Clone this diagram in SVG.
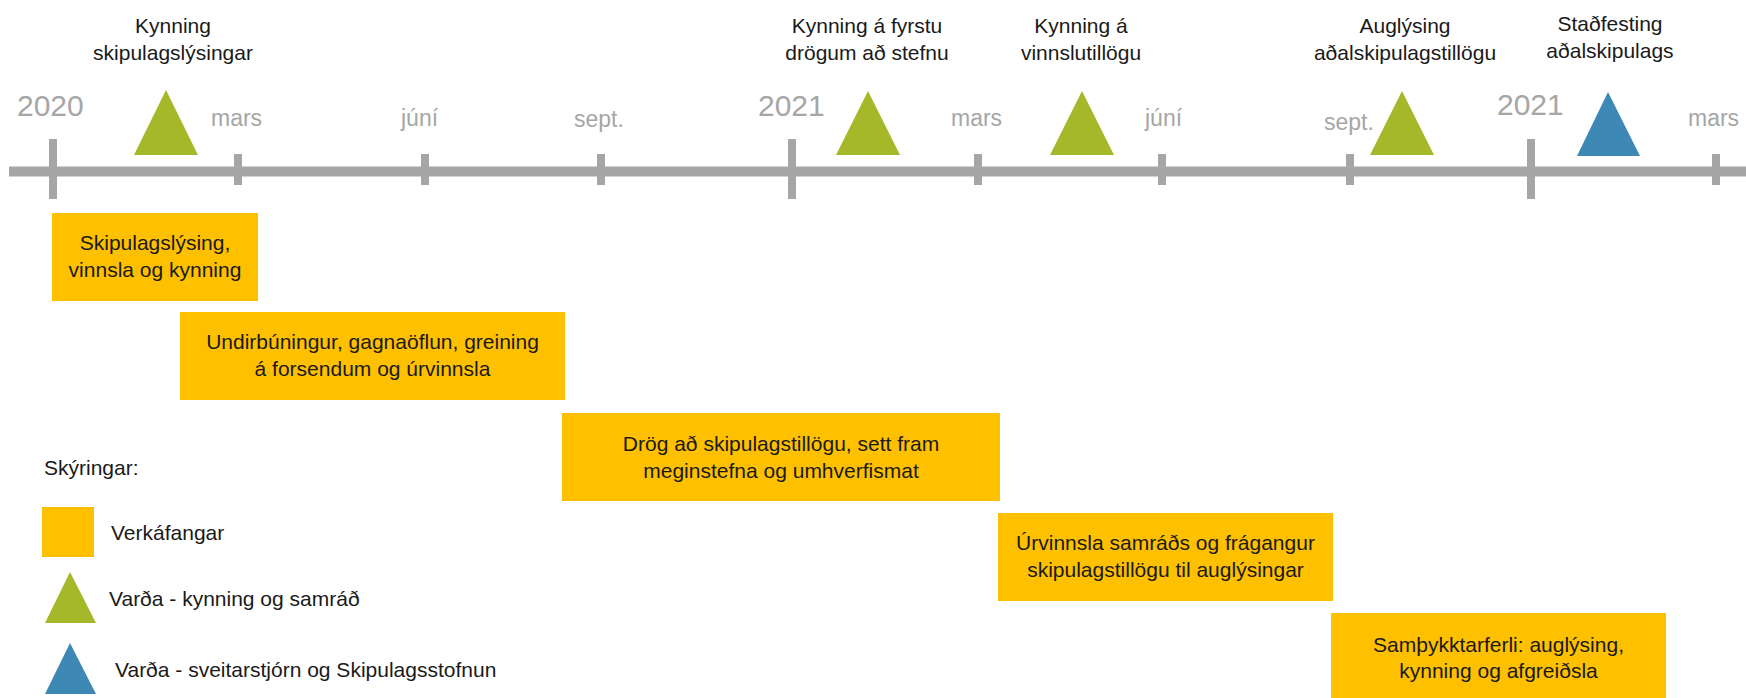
<svg xmlns="http://www.w3.org/2000/svg" width="1746" height="698" viewBox="0 0 1746 698">
<style>
.bg{fill:#ffffff}
.axis{fill:#A6A6A6}
.yr{font-family:"Liberation Sans",Arial,sans-serif;font-size:30px;fill:#A6A6A6}
.mo{font-family:"Liberation Sans",Arial,sans-serif;font-size:23px;fill:#A6A6A6}
.t{font-family:"Liberation Sans",Arial,sans-serif;font-size:21px;fill:#1a1a1a}
.c{text-anchor:middle}
.box{fill:#FFC000}
.grn{fill:#A5B82A}
.blu{fill:#3D88B4}
</style>
<rect class="bg" x="0" y="0" width="1746" height="698"/>
<g id="timeline">
  <rect class="axis" x="9" y="166.5" width="1737" height="10"/>
  <rect class="axis" x="49" y="139" width="8" height="60"/>
  <rect class="axis" x="234" y="154" width="8" height="31"/>
  <rect class="axis" x="421" y="154" width="8" height="31"/>
  <rect class="axis" x="597" y="154" width="8" height="31"/>
  <rect class="axis" x="788" y="139" width="8" height="60"/>
  <rect class="axis" x="974" y="154" width="8" height="31"/>
  <rect class="axis" x="1158" y="154" width="8" height="31"/>
  <rect class="axis" x="1346" y="154" width="8" height="31"/>
  <rect class="axis" x="1527" y="139" width="8" height="60"/>
  <rect class="axis" x="1712" y="154" width="8" height="31"/>
  <text class="yr" x="17" y="116">2020</text>
  <text class="mo" x="211" y="126">mars</text>
  <text class="mo" x="401" y="126">júní</text>
  <text class="mo" x="574" y="127">sept.</text>
  <text class="yr" x="758" y="116">2021</text>
  <text class="mo" x="951" y="126">mars</text>
  <text class="mo" x="1145" y="126">júní</text>
  <text class="mo" x="1324" y="130">sept.</text>
  <text class="yr" x="1497" y="115">2021</text>
  <text class="mo" x="1688" y="126">mars</text>
</g>
<g id="m1">
  <polygon class="grn" points="166,90 134,155 198,155"/>
  <text class="t c" x="173" y="33">Kynning</text>
  <text class="t c" x="173" y="60">skipulagslýsingar</text>
</g>
<g id="m2">
  <polygon class="grn" points="868,91 836,155 900,155"/>
  <text class="t c" x="867" y="33">Kynning á fyrstu</text>
  <text class="t c" x="867" y="60">drögum að stefnu</text>
</g>
<g id="m3">
  <polygon class="grn" points="1082,91 1050,155 1114,155"/>
  <text class="t c" x="1081" y="33">Kynning á</text>
  <text class="t c" x="1081" y="60">vinnslutillögu</text>
</g>
<g id="m4">
  <polygon class="grn" points="1402,91 1370,155 1434,155"/>
  <text class="t c" x="1405" y="33">Auglýsing</text>
  <text class="t c" x="1405" y="60">aðalskipulagstillögu</text>
</g>
<g id="m5">
  <polygon class="blu" points="1608,92 1577,156 1640,156"/>
  <text class="t c" x="1610" y="31">Staðfesting</text>
  <text class="t c" x="1610" y="58">aðalskipulags</text>
</g>
<g id="b1">
  <rect class="box" x="52" y="213" width="206" height="88"/>
  <text class="t c" x="155" y="250">Skipulagslýsing,</text>
  <text class="t c" x="155" y="277">vinnsla og kynning</text>
</g>
<g id="b2">
  <rect class="box" x="180" y="312" width="385" height="88"/>
  <text class="t c" x="372.5" y="349">Undirbúningur, gagnaöflun, greining</text>
  <text class="t c" x="372.5" y="376">á forsendum og úrvinnsla</text>
</g>
<g id="b3">
  <rect class="box" x="562" y="413" width="438" height="88"/>
  <text class="t c" x="781" y="451">Drög að skipulagstillögu, sett fram</text>
  <text class="t c" x="781" y="478">meginstefna og umhverfismat</text>
</g>
<g id="b4">
  <rect class="box" x="998" y="513" width="335" height="88"/>
  <text class="t c" x="1165.5" y="550">Úrvinnsla samráðs og frágangur</text>
  <text class="t c" x="1165.5" y="577">skipulagstillögu til auglýsingar</text>
</g>
<g id="b5">
  <rect class="box" x="1331" y="613" width="335" height="88"/>
  <text class="t c" x="1498.5" y="652">Samþykktarferli: auglýsing,</text>
  <text class="t c" x="1498.5" y="678">kynning og afgreiðsla</text>
</g>
<g id="legend">
  <text class="t" x="44" y="475">Skýringar:</text>
  <rect class="box" x="42" y="507" width="52" height="50"/>
  <text class="t" x="111" y="540">Verkáfangar</text>
  <polygon class="grn" points="70,572 45,623 96,623"/>
  <text class="t" x="109" y="606">Varða - kynning og samráð</text>
  <polygon class="blu" points="70,643 45,694 96,694"/>
  <text class="t" x="115" y="677">Varða - sveitarstjórn og Skipulagsstofnun</text>
</g>
</svg>
